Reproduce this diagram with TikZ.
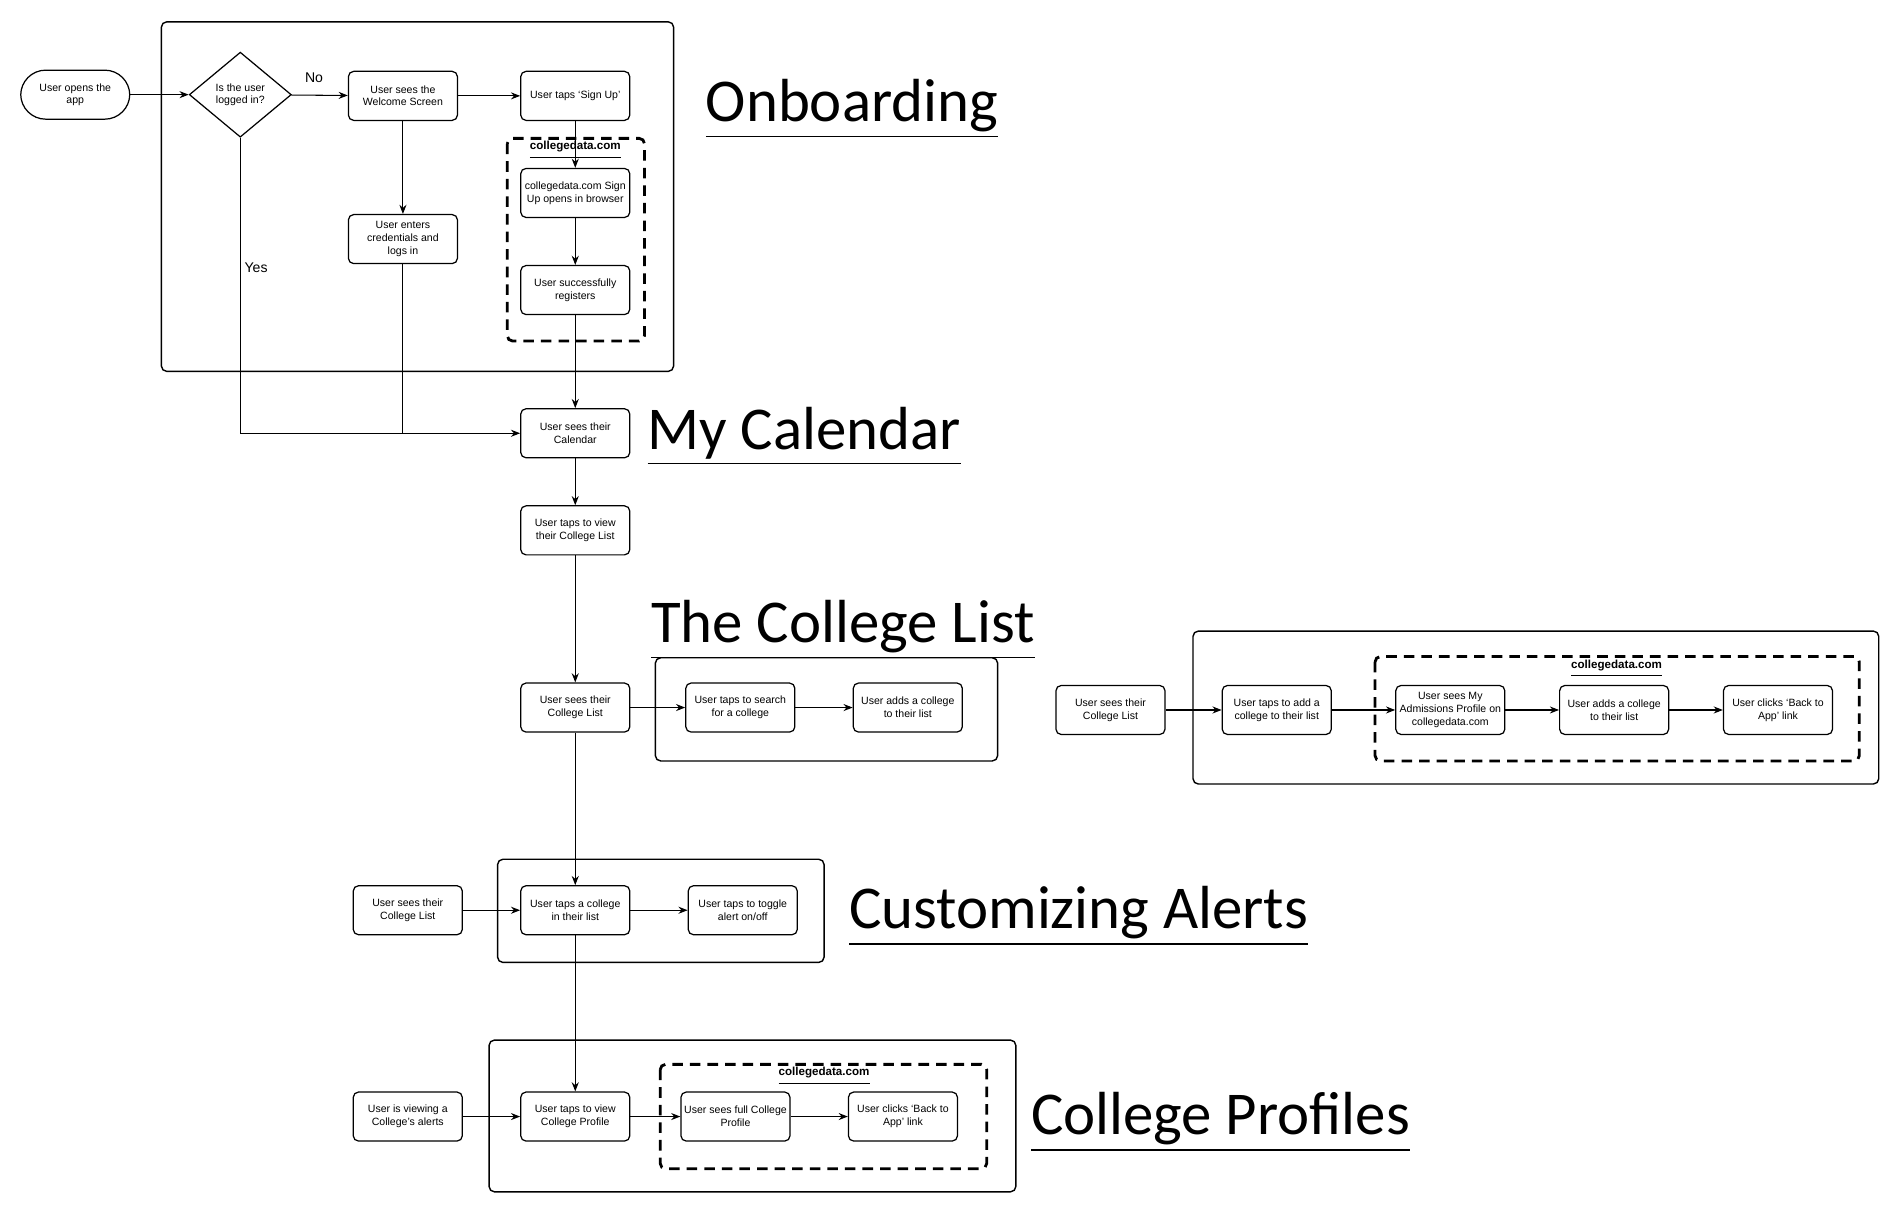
\documentclass[tikz,border=0pt]{standalone}
\usepackage{fontspec}
\setmainfont{Liberation Sans}
\newfontfamily\titlefont{Carlito}
\usetikzlibrary{shapes.geometric,arrows.meta}
\begin{document}
\begin{tikzpicture}[x=0.012137cm,y=-0.012137cm,
  box/.style={draw,line width=0.35pt,rounded corners=1.5pt,minimum width=1.09cm,minimum height=0.49cm,inner sep=0.5pt,align=center,font=\fontsize{3}{3.6}\selectfont},
  frame/.style={draw,line width=0.4pt,rounded corners=1.5pt},
  dframe/.style={draw,line width=0.8pt,dashed,dash pattern=on 3pt off 2pt,rounded corners=1.5pt},
  arr/.style={-{Stealth[length=2.6pt,width=2pt]},line width=0.3pt},
  ln/.style={line width=0.3pt},
  title/.style={anchor=base west,inner sep=0pt,font=\titlefont\fontsize{17.3}{20}\selectfont},
  cd/.style={font=\bfseries\fontsize{3.3}{4}\selectfont},
  lab/.style={font=\fontsize{4}{5}\selectfont}]
\useasboundingbox (0,0) rectangle (1568,1003);
% frames
\draw[frame] (133,18) rectangle (555,306);
\draw[dframe] (418,114) rectangle (531,281);
\draw[frame] (540,542) rectangle (822,627);
\draw[frame] (983,520) rectangle (1548,646);
\draw[dframe] (1133,541) rectangle (1532,627);
\draw[frame] (410,708) rectangle (679,793);
\draw[frame] (403,857) rectangle (837,982);
\draw[dframe] (544,877) rectangle (813,963);
\node[cd] (cd1) at (474,124) {\underline{collegedata.com}};
\node[cd] (cd2) at (1332,551) {\underline{collegedata.com}};
\node[cd] (cd3) at (679,887) {\underline{collegedata.com}};
% titles
\node[title] (t1) at (581,100) {\underline{Onboarding}};
\node[title] (t2) at (533,370) {\underline{My Calendar}};
\node[title] (t3) at (536,529) {\underline{The College List}};
\node[title] (t4) at (699,765) {\underline{Customizing Alerts}};
\node[title] (t5) at (849,935) {\underline{College Profiles}};
% onboarding
\node[box,rounded corners=2.5mm] (start) at (62,78) {User opens the\\app};
\node[draw,diamond,line width=0.35pt,minimum width=1.02cm,minimum height=0.85cm,inner sep=0pt,align=center,font=\fontsize{3}{3.6}\selectfont] (dia) at (198,78) {Is the user\\logged in?};
\node[box] (wel) at (332,79) {User sees the\\Welcome Screen};
\node[box] (sign) at (474,79) {User taps `Sign Up'};
\node[box] (open) at (474,159) {collegedata.com Sign\\Up opens in browser};
\node[box] (reg) at (474,239) {User successfully\\registers};
\node[box] (cred) at (332,197) {User enters\\credentials and\\logs in};
\node[box] (cal) at (474,357) {User sees their\\Calendar};
\node[box] (view) at (474,437) {User taps to view\\their College List};
\draw[arr] (start) -- (dia);
\draw[arr] (dia) -- node[lab,above,pos=0.4] {No} (wel);
\draw[arr] (wel) -- (cred);
\draw[arr] (wel) -- (sign);
\draw[arr] (sign) -- (open);
\draw[arr] (open) -- (reg);
\draw[arr] (reg) -- (cal);
\draw[ln] (cred.south) -- (cred.south |- cal.west);
\draw[arr] (dia.south) |- (cal.west);
\node[lab] (yes) at (211,221) {Yes};
\draw[arr] (cal) -- (view);
% college list
\node[box] (list) at (474,583) {User sees their\\College List};
\node[box] (search) at (610,583) {User taps to search\\for a college};
\node[box] (adds) at (748,583) {User adds a college\\to their list};
\draw[arr] (view) -- (list);
\draw[arr] (list) -- (search);
\draw[arr] (search) -- (adds);
% right group
\node[box] (rl) at (915,585) {User sees their\\College List};
\node[box] (radd) at (1052,585) {User taps to add a\\college to their list};
\node[box] (radm) at (1195,585) {User sees My\\Admissions Profile on\\collegedata.com};
\node[box] (radds) at (1330,585) {User adds a college\\to their list};
\node[box] (rback) at (1465,585) {User clicks `Back to\\App' link};
\draw[arr] (rl) -- (radd);
\draw[arr] (radd) -- (radm);
\draw[arr] (radm) -- (radds);
\draw[arr] (radds) -- (rback);
% alerts
\node[box] (asees) at (336,750) {User sees their\\College List};
\node[box] (atap) at (474,750) {User taps a college\\in their list};
\node[box] (atog) at (612,750) {User taps to toggle\\alert on/off};
\draw[arr] (list) -- (atap);
\draw[arr] (asees) -- (atap);
\draw[arr] (atap) -- (atog);
% profiles
\node[box] (pview) at (336,920) {User is viewing a\\College's alerts};
\node[box] (ptap) at (474,920) {User taps to view\\College Profile};
\node[box] (pfull) at (606,920) {User sees full College\\Profile};
\node[box] (pback) at (744,920) {User clicks `Back to\\App' link};
\draw[arr] (atap) -- (ptap);
\draw[arr] (pview) -- (ptap);
\draw[arr] (ptap) -- (pfull);
\draw[arr] (pfull) -- (pback);
\end{tikzpicture}
\end{document}
